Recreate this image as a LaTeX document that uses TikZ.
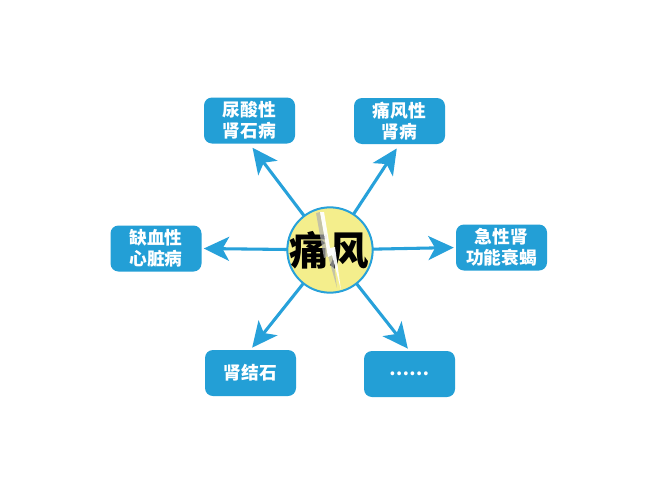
\documentclass[tikz,border=0pt]{standalone}
\usepackage{fontspec}
\setmainfont{Noto Sans CJK SC}
\usetikzlibrary{arrows.meta}
\definecolor{boxblue}{HTML}{239FD6}
\definecolor{arrblue}{HTML}{27A1DA}
\definecolor{sunyellow}{HTML}{F4EE8C}
\begin{document}
\begin{tikzpicture}[x=0.75pt,y=-0.75pt,
  box/.style={fill=boxblue, rounded corners=6pt, minimum width=68.25pt, minimum height=34.5pt,
    text=white, font=\bfseries\fontsize{13.3}{15.8}\selectfont, align=center, inner sep=0pt},
  arr/.style={draw=arrblue, line width=2.3pt,
    -{Stealth[length=19pt,width=18pt,inset=5pt]}}]
\useasboundingbox[fill=white] (0,0) rectangle (650,500);
% boxes
\node[box] (b1) at (249.5,120.5) {尿酸性\\肾石病};
\node[box] (b2) at (399.5,121) {痛风性\\肾病};
\node[box] (b3) at (156,248.5) {缺血性\\心脏病};
\node[box] (b4) at (501.5,247.5) {急性肾\\功能衰蝎};
\node[box] (b5) at (250.5,373) {肾结石};
\node[box] (b6) at (409.5,374) {……};
% arrows
\coordinate (c) at (330,250);
\draw[arr, shorten >=5*0.75pt] (c) -- (b1.south);
\draw[arr, shorten >=5*0.75pt] (c) -- (b2.south);
\draw[arr, shorten >=1.5pt] (c) -- (b3.east);
\draw[arr, shorten >=1.5pt] (c) -- (b4.west);
\draw[arr, shorten >=2pt] (c) -- (b5.north);
\draw[arr, shorten >=2pt] (c) -- (b6.north);
% centre
\node[circle, draw=arrblue, line width=1.5pt, fill=sunyellow, minimum size=64pt, inner sep=0pt] (cc) at (c) {};
\node[font=\bfseries\fontsize{29.5}{31}\selectfont, text=black, inner sep=0pt] (t) at (329,250) {痛风};
\fill[gray!60, opacity=0.7] (316,213) -- (320,212) -- (327,249) -- (332,248) -- (337,288) -- (328,256) -- (324,258) -- cycle;
\fill[white, opacity=0.95] (320,212) -- (324,212) -- (330,248) -- (335,247) -- (341,290) -- (332,255) -- (328,257) -- cycle;
\end{tikzpicture}
\end{document}
